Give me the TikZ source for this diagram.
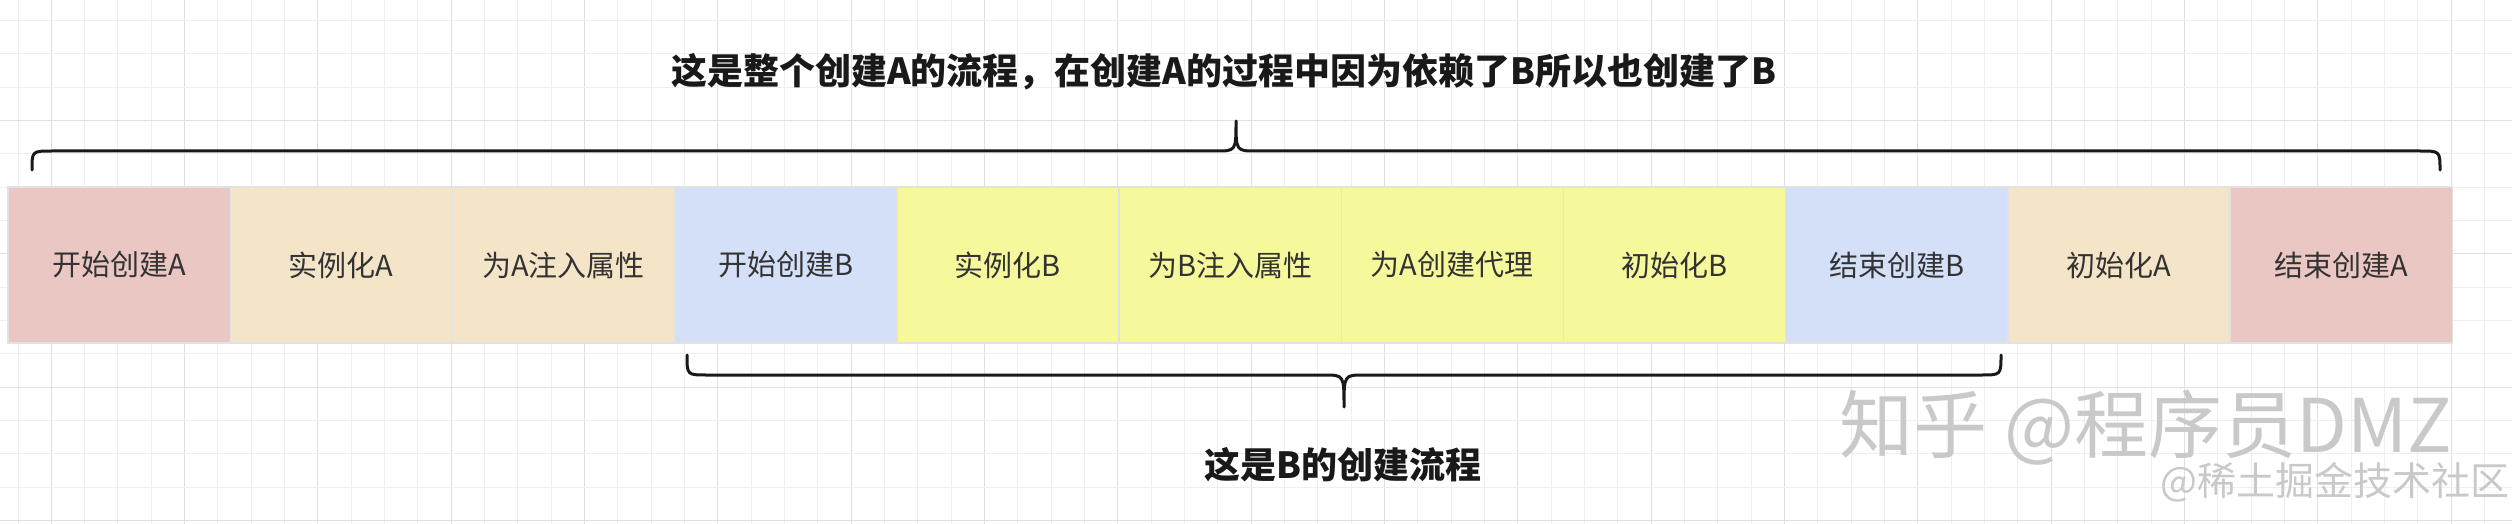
\documentclass[tikz,border=0pt]{standalone}
\usepackage{fontspec}
\setmainfont{Noto Sans CJK SC}
\definecolor{cpink}{HTML}{EAC7C3}
\definecolor{cbeige}{HTML}{F4E5C9}
\definecolor{cblue}{HTML}{D3E0F7}
\definecolor{cyellow}{HTML}{F6F99B}
\definecolor{txt}{HTML}{333333}
\definecolor{boxline}{HTML}{E2E2E2}
\definecolor{gridminor}{HTML}{EFEFEF}
\definecolor{gridmajor}{HTML}{E0E0E0}
\definecolor{wm}{HTML}{C9C9C9}
\begin{document}
\begin{tikzpicture}[x=0.5pt,y=-0.5pt,
  stepbox/.style={draw=boxline, line width=0.7pt, minimum width=111.1pt, minimum height=78pt,
    inner sep=0pt, outer sep=0pt, anchor=north west, text=txt, font=\fontsize{14.5}{17}\selectfont},
  bracepath/.style={draw=black!90, line width=1.5pt, line cap=round, line join=round},
  title/.style={font=\bfseries\fontsize{18}{21}\selectfont, text=black!90},
  wmark/.style={text=wm}]
\path[use as bounding box, fill=white] (0,0) rectangle (2512,524);
% grid
\foreach \i in {0,...,75} {
  \pgfmathsetmacro{\xx}{18+33.33*\i}
  \pgfmathtruncatemacro{\m}{mod(\i,4)}
  \ifnum\m=1 \draw[gridmajor, line width=0.5pt] (\xx,0) -- (\xx,524);
  \else \draw[gridminor, line width=0.5pt] (\xx,0) -- (\xx,524); \fi
}
\foreach \j in {0,...,15} {
  \pgfmathsetmacro{\yy}{20.4+33.33*\j}
  \pgfmathtruncatemacro{\m}{mod(\j,4)}
  \ifnum\m=3 \draw[gridmajor, line width=0.5pt] (0,\yy) -- (2512,\yy);
  \else \draw[gridminor, line width=0.5pt] (0,\yy) -- (2512,\yy); \fi
}
% boxes
\foreach \lab/\col [count=\k from 0] in {开始创建A/cpink, 实例化A/cbeige, 为A注入属性/cbeige, 开始创建B/cblue,
   实例化B/cyellow, 为B注入属性/cyellow, 为A创建代理/cyellow, 初始化B/cyellow, 结束创建B/cblue,
   初始化A/cbeige, 结束创建A/cpink} {
  \node[stepbox, fill=\col] (b\k) at ({8+222.2*\k},187) {\lab};
}
% top brace
\coordinate (tl) at (32,170);
\coordinate (tr) at (2440,170);
\coordinate (tt) at (1236,121);
\draw[bracepath] (tl) .. controls (32,151) .. (52,151) -- (1216,151)
  .. controls (1236,151) .. (tt) .. controls (1236,151) .. (1256,151) -- (2420,151)
  .. controls (2440,151) .. (tr);
\node[title] (toptitle) at (1224,72) {这是整个创建A的流程，在创建A的过程中因为依赖了B所以也创建了B};
% bottom brace
\coordinate (bl) at (687,355);
\coordinate (br) at (2001,355);
\coordinate (bt) at (1344,407);
\draw[bracepath] (bl) .. controls (687,375) .. (707,375) -- (1324,375)
  .. controls (1344,375) .. (bt) .. controls (1344,375) .. (1364,375) -- (1981,375)
  .. controls (2001,375) .. (br);
\node[title] (bottitle) at (1343,465) {这是B的创建流程};
% watermark
\node[wmark, font=\fontsize{37}{40}\selectfont] (wm1) at (2146,428) {知乎 @程序员DMZ};
\node[wmark, font=\fontsize{19.5}{22}\selectfont] (wm2) at (2335,482) {@稀土掘金技术社区};
\end{tikzpicture}
\end{document}
